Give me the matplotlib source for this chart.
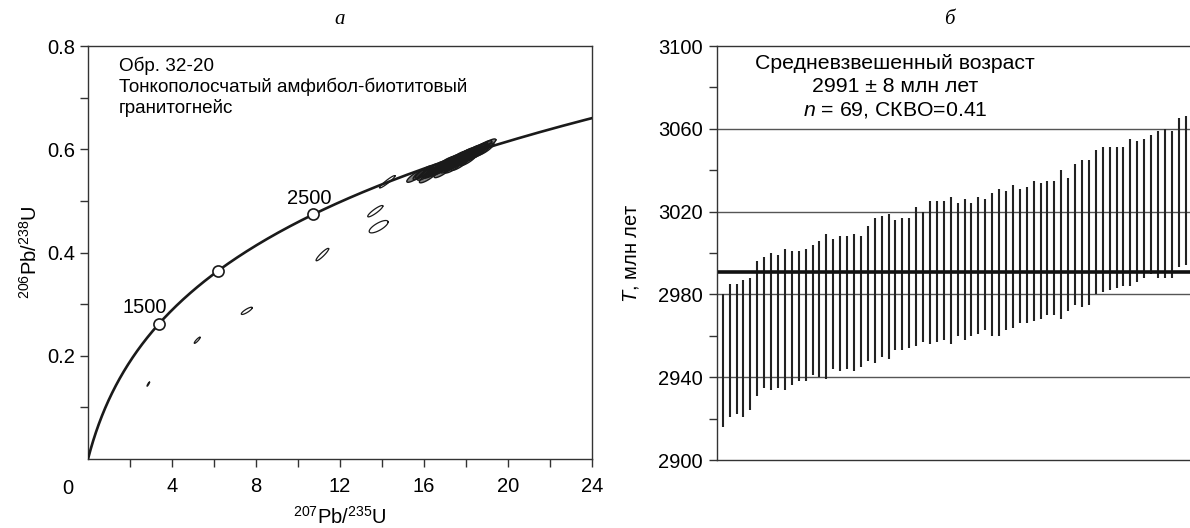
import numpy as np
import matplotlib
matplotlib.use("Agg")
import matplotlib.pyplot as plt

plt.rcParams['font.family'] = ['Liberation Sans', 'DejaVu Sans']
plt.rcParams['mathtext.fontset'] = 'custom'
plt.rcParams['mathtext.rm'] = 'Liberation Sans'
plt.rcParams['mathtext.it'] = 'Liberation Sans:italic'

# --- данные: панель а (конкордия) ---
LAMBDA_238 = 1.55125e-10
LAMBDA_235 = 9.8485e-10
ages_marked = [1500, 2000, 2500]          # млн лет, точки на конкордии
ages_labeled = [1500, 2500]

# дискордантные зерна: 207/235, 206/238, sx, sy, rho
out_x = [2.87, 5.2, 7.56, 11.16, 13.68, 13.84, 14.25]
out_y = [0.145, 0.230, 0.287, 0.396, 0.480, 0.450, 0.537]
out_sx = [0.06, 0.14, 0.26, 0.30, 0.36, 0.45, 0.37]
out_sy = [0.004, 0.006, 0.007, 0.012, 0.011, 0.012, 0.012]
out_rho = [0.9, 0.9, 0.85, 0.92, 0.9, 0.75, 0.95]

# основной кластер
cl_x = [15.6, 15.9, 16.0, 16.1, 16.2, 16.3, 16.4, 16.5, 16.6, 16.7, 16.8, 16.9,
        17.0, 17.0, 17.1, 17.2, 17.2, 17.3, 17.4, 17.5, 17.5, 17.6, 17.7, 17.8,
        17.8, 17.9, 17.9, 18.0, 18.0, 18.1, 18.2, 18.2, 18.3, 18.3, 18.4, 18.5,
        18.5, 18.6, 18.7, 18.8, 18.9, 19.0, 17.4, 17.7, 18.1, 16.9]
cl_y = [0.548, 0.553, 0.556, 0.552, 0.547, 0.560, 0.556, 0.558, 0.565, 0.560,
        0.562, 0.570, 0.566, 0.573, 0.574, 0.566, 0.576, 0.578, 0.570, 0.581,
        0.573, 0.584, 0.576, 0.587, 0.579, 0.589, 0.582, 0.581, 0.591, 0.586,
        0.594, 0.587, 0.596, 0.590, 0.590, 0.599, 0.592, 0.601, 0.596, 0.605,
        0.600, 0.608, 0.566, 0.571, 0.580, 0.557]
cl_sx = 0.42
cl_sy = 0.012
cl_rho = 0.85

# --- данные: панель б (возрасты, млн лет) ---
age_lo = [2916, 2921, 2922, 2921, 2924, 2931, 2935, 2934, 2935, 2934, 2936, 2938,
          2938, 2941, 2940, 2939, 2944, 2943, 2944, 2943, 2945, 2948, 2947, 2950,
          2949, 2953, 2953, 2954, 2955, 2957, 2956, 2957, 2958, 2956, 2960, 2958,
          2960, 2961, 2963, 2960, 2960, 2963, 2964, 2966, 2966, 2967, 2968, 2970,
          2970, 2968, 2972, 2975, 2974, 2975, 2980, 2981, 2982, 2983, 2984, 2984,
          2986, 2988, 2990, 2988, 2988, 2988, 2993, 2994]
age_hi = [2980, 2985, 2985, 2987, 2988, 2996, 2998, 3000, 2999, 3002, 3001, 3001,
          3002, 3004, 3006, 3009, 3007, 3008, 3008, 3009, 3008, 3013, 3017, 3018,
          3019, 3016, 3017, 3017, 3022, 3020, 3025, 3025, 3025, 3027, 3024, 3026,
          3024, 3027, 3026, 3029, 3031, 3030, 3033, 3031, 3032, 3035, 3034, 3035,
          3035, 3040, 3036, 3043, 3045, 3045, 3050, 3051, 3051, 3051, 3051, 3055,
          3054, 3055, 3057, 3059, 3060, 3059, 3065, 3066]
mean_age = 2991

fig = plt.figure(figsize=(11.9, 5.28), dpi=100)
W, H = 1190, 528


def box(l, t, r, b):
    return [l / W, 1 - b / H, (r - l) / W, (b - t) / H]


def ellipse_xy(x, y, sx, sy, rho):
    t = np.linspace(0, 2 * np.pi, 60)
    ex = x + sx * np.cos(t)
    ey = y + sy * (rho * np.cos(t) + np.sqrt(1 - rho ** 2) * np.sin(t))
    return ex, ey


# ===== панель а =====
ax1 = fig.add_axes(box(88, 46, 592, 459))
tt = np.linspace(0, 3.4e9, 500)
ax1.plot(np.exp(LAMBDA_235 * tt) - 1, np.exp(LAMBDA_238 * tt) - 1,
         color='#1a1a1a', lw=1.9, zorder=3)
ta = np.array(ages_marked) * 1e6
ax1.plot(np.exp(LAMBDA_235 * ta) - 1, np.exp(LAMBDA_238 * ta) - 1, 'o',
         ms=8, mfc='white', mec='#1a1a1a', mew=1.2, zorder=4)
for a, dx in zip(ages_labeled, [-10, -3]):
    ax1.annotate(str(a), (np.exp(LAMBDA_235 * a * 1e6) - 1, np.exp(LAMBDA_238 * a * 1e6) - 1),
                 xytext=(dx, 11.5), textcoords='offset points', ha='center', va='center',
                 fontsize=14.5)

for i in range(len(out_x)):
    ex, ey = ellipse_xy(out_x[i], out_y[i], out_sx[i], out_sy[i], out_rho[i])
    ax1.plot(ex, ey, color='#1a1a1a', lw=0.9)
for i in range(len(cl_x)):
    ex, ey = ellipse_xy(cl_x[i], cl_y[i], cl_sx, cl_sy, cl_rho)
    ax1.fill(ex, ey, facecolor='#1a1a1a', alpha=0.55, edgecolor='none')
    ax1.plot(ex, ey, color='#1a1a1a', lw=1.0)

ax1.set_xlim(0, 24)
ax1.set_ylim(0, 0.8)
ax1.set_xticks([4, 8, 12, 16, 20, 24])
ax1.set_xticks([2, 6, 10, 14, 18, 22], minor=True)
ax1.set_yticks([0.2, 0.4, 0.6, 0.8])
ax1.set_yticks([0.1, 0.3, 0.5, 0.7], minor=True)
ax1.tick_params(which='both', direction='out', length=6, width=1, color='#333333',
                labelsize=14.5)
ax1.tick_params(axis='x', pad=7)
ax1.tick_params(axis='y', pad=3)
for s in ax1.spines.values():
    s.set_linewidth(1)
    s.set_color('#333333')
ax1.set_xlabel('$^{207}$Pb/$^{235}$U', fontsize=14.5, labelpad=7)
ax1.set_ylabel('$^{206}$Pb/$^{238}$U', fontsize=14.5, labelpad=5)
fig.text(68 / W, 1 - 489 / H, '0', ha='center', va='center', fontsize=14.5)

ax1.text(0.062, 0.975, 'Обр. 32-20', transform=ax1.transAxes, fontsize=13.6, va='top')
ax1.text(0.062, 0.923, 'Тонкополосчатый амфибол-биотитовый', transform=ax1.transAxes,
         fontsize=13.6, va='top')
ax1.text(0.062, 0.871, 'гранитогнейс', transform=ax1.transAxes, fontsize=13.6, va='top')

fig.text(340 / W, 1 - 20 / H, 'а', family='Liberation Serif', style='italic',
         fontsize=15, ha='center', va='center')

# ===== панель б =====
ax2 = fig.add_axes(box(716.5, 46, 1196, 460))
idx = np.arange(1, len(age_lo) + 1)
ax2.vlines(idx, age_lo, age_hi, color='#222222', lw=1.5, zorder=3)
ax2.hlines(mean_age, 0.35, 69.6, color='#111111', lw=2.6, zorder=4)
for g in [2940, 2980, 3020, 3060]:
    ax2.axhline(g, color='#555555', lw=1, zorder=1)
ax2.set_xlim(0.1, 69.5)
ax2.set_ylim(2900, 3100)
ax2.set_xticks([])
ax2.set_yticks(np.arange(2900, 3101, 40))
ax2.set_yticks(np.arange(2920, 3100, 40), minor=True)
ax2.tick_params(which='both', direction='out', length=6, width=1, color='#333333',
                labelsize=14.5, pad=4)
for s in ax2.spines.values():
    s.set_linewidth(1)
    s.set_color('#333333')
ax2.spines['right'].set_visible(False)
ax2.set_ylabel('$T$, млн лет', fontsize=14.5, labelpad=12)

ax2.text(895 / W, 1 - 63 / H, 'Средневзвешенный возраст', transform=fig.transFigure,
         ha='center', va='center', fontsize=15.3)
ax2.text(895 / W, 1 - 87 / H, '2991 ± 8 млн лет', transform=fig.transFigure,
         ha='center', va='center', fontsize=15.3)
ax2.text(895 / W, 1 - 110 / H, '$n$ = 69, СКВО=0.41', transform=fig.transFigure,
         ha='center', va='center', fontsize=15.3)

fig.text(949 / W, 1 - 20 / H, 'б', family='Liberation Serif', style='italic',
         fontsize=15, ha='center', va='center')

fig.savefig('out.png', dpi=100)
